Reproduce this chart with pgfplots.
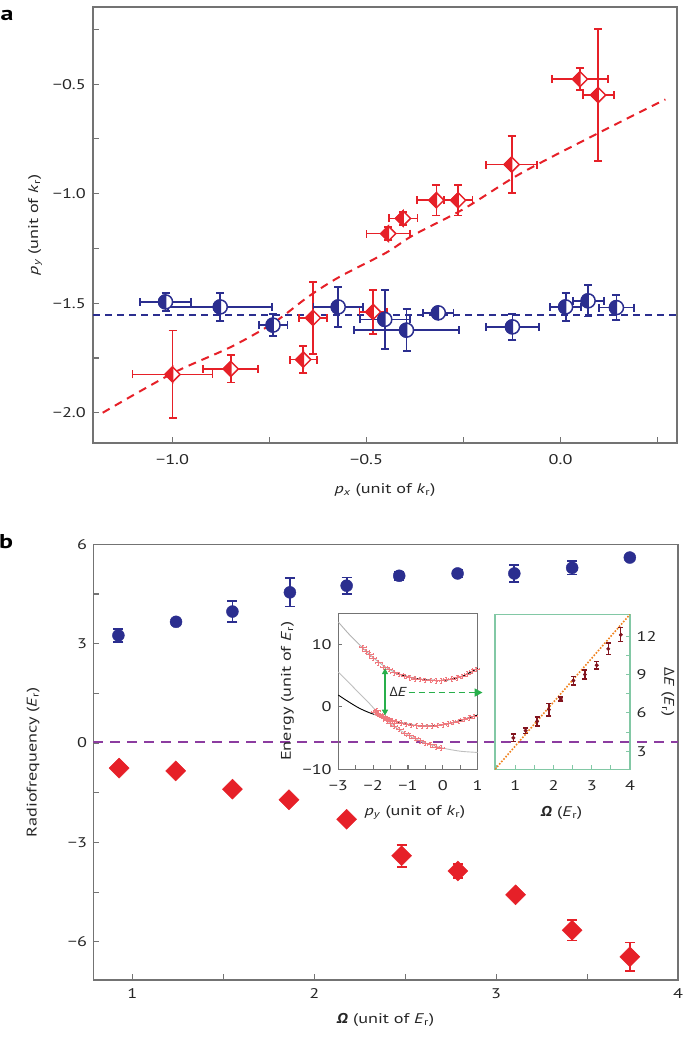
\documentclass[border=0pt]{standalone}
\usepackage{pgfplots}
\pgfplotsset{compat=1.18}
\usepackage{fontspec}
\setmainfont{PT Sans}[FakeStretch=1.3]
\newfontfamily\grk{Open Sans}[FakeStretch=1.1]
\usetikzlibrary{arrows.meta}
\definecolor{cred}{RGB}{230,32,40}
\definecolor{cblue}{RGB}{43,46,143}
\definecolor{cpurple}{RGB}{140,60,160}
\definecolor{cgreen}{RGB}{40,175,75}
\definecolor{corange}{RGB}{240,130,30}
\definecolor{cdred}{RGB}{130,20,30}
\definecolor{cmint}{RGB}{130,200,165}
\definecolor{caxis}{RGB}{115,115,115}
\newcommand{\kr}{\textit{k}\textsubscript{r}}
\newcommand{\Er}{\textit{E}\textsubscript{r}}
\newcommand{\py}{\textit{p}\textsubscript{\textit{y}}}
\newcommand{\px}{\textit{p}\textsubscript{\textit{x}}}
\newcommand{\Om}{{\grk\bfseries\itshape Ω}}
\newcommand{\tfont}{\fontsize{14}{16}\selectfont}
\pgfdeclareplotmark{hdiamondred}{%
  \pgfpathmoveto{\pgfqpoint{0pt}{\pgfplotmarksize}}%
  \pgfpathlineto{\pgfqpoint{\pgfplotmarksize}{0pt}}%
  \pgfpathlineto{\pgfqpoint{0pt}{-\pgfplotmarksize}}%
  \pgfpathlineto{\pgfqpoint{-\pgfplotmarksize}{0pt}}%
  \pgfpathclose
  \pgfsetfillcolor{white}%
  \pgfusepathqfillstroke
  \pgfpathmoveto{\pgfqpoint{0pt}{\pgfplotmarksize}}%
  \pgfpathlineto{\pgfqpoint{-\pgfplotmarksize}{0pt}}%
  \pgfpathlineto{\pgfqpoint{0pt}{-\pgfplotmarksize}}%
  \pgfpathclose
  \pgfsetfillcolor{cred}%
  \pgfusepathqfillstroke
}
\pgfdeclareplotmark{hcircblue}{%
  \pgfpathcircle{\pgfpointorigin}{\pgfplotmarksize}%
  \pgfsetfillcolor{white}%
  \pgfusepathqfillstroke
  \pgfpathmoveto{\pgfqpoint{0pt}{\pgfplotmarksize}}%
  \pgfpatharc{90}{270}{\pgfplotmarksize}%
  \pgfpathclose
  \pgfsetfillcolor{cblue}%
  \pgfusepathqfillstroke
}
\pgfdeclareplotmark{sqdiamond}{%
  \pgfpathmoveto{\pgfqpoint{0pt}{\pgfplotmarksize}}%
  \pgfpathlineto{\pgfqpoint{\pgfplotmarksize}{0pt}}%
  \pgfpathlineto{\pgfqpoint{0pt}{-\pgfplotmarksize}}%
  \pgfpathlineto{\pgfqpoint{-\pgfplotmarksize}{0pt}}%
  \pgfpathclose
  \pgfusepathqfillstroke
}
\pgfplotstableread{
x y ex ey
-1.000 -1.825 0.103 0.20
-0.850 -1.800 0.071 0.062
-0.663 -1.757 0.035 0.062
-0.638 -1.567 0.037 0.165
-0.483 -1.540 0.035 0.10
-0.444 -1.182 0.056 0.03
-0.406 -1.113 0.037 0.03
-0.320 -1.030 0.050 0.07
-0.264 -1.030 0.037 0.07
-0.126 -0.867 0.066 0.13
0.050 -0.477 0.072 0.05
0.097 -0.550 0.040 0.30
}\redA
\pgfplotstableread{
x y ex ey
-1.018 -1.494 0.066 0.040
-0.877 -1.517 0.134 0.065
-0.741 -1.600 0.037 0.050
-0.573 -1.517 0.064 0.090
-0.453 -1.574 0.064 0.135
-0.397 -1.623 0.136 0.095
-0.315 -1.544 0.039 0.025
-0.124 -1.608 0.069 0.060
0.013 -1.517 0.040 0.065
0.071 -1.489 0.040 0.072
0.144 -1.520 0.045 0.057
}\blueA
\pgfplotstableread{
x y ey
0.923 3.25 0.20
1.240 3.66 0.10
1.550 3.97 0.32
1.866 4.55 0.43
2.178 4.75 0.25
2.467 5.05 0.12
2.788 5.12 0.12
3.100 5.12 0.25
3.418 5.29 0.20
3.735 5.60 0.08
}\blueB
\pgfplotstableread{
x y ey
0.927 -0.755 0.10
1.238 -0.840 0.08
1.550 -1.390 0.10
1.861 -1.710 0.10
2.178 -2.300 0.10
2.480 -3.400 0.33
2.790 -3.860 0.22
3.107 -4.580 0.12
3.418 -5.650 0.31
3.735 -6.450 0.43
}\redB
\pgfplotstableread{
x y ey
0.95 4.05 0.30
1.27 4.62 0.20
1.57 5.34 0.35
1.88 6.26 0.50
2.19 7.09 0.15
2.52 8.52 0.35
2.82 9.00 0.35
3.13 9.72 0.30
3.43 11.00 0.45
3.76 12.10 0.55
}\dE
\pgfplotstableread{
x y
-2.30 9.6
-2.20 8.9
-2.10 8.4
-2.00 7.8
-1.85 7.1
-1.70 6.4
-1.55 6.0
-1.40 5.5
-1.25 5.2
-1.10 4.9
-0.95 4.7
-0.80 4.5
-0.65 4.4
-0.50 4.3
-0.35 4.3
-0.20 4.2
-0.05 4.2
0.10 4.4
0.25 4.5
0.40 4.7
0.55 4.9
0.70 5.3
0.85 5.7
0.95 6.0
-1.95 -0.8
-1.85 -1.1
-1.80 -1.3
-1.75 -1.5
-1.70 -1.6
-1.65 -1.8
-1.60 -1.9
-1.55 -2.0
-1.45 -2.2
-1.35 -2.35
-1.20 -2.55
-1.05 -2.75
-0.90 -2.9
-0.75 -3.0
-0.60 -3.05
-0.45 -3.1
-0.30 -3.05
-0.15 -2.95
0.00 -2.85
0.15 -2.7
0.30 -2.5
0.45 -2.25
0.60 -2.0
0.75 -1.75
0.90 -1.5
-1.90 -0.6
-1.70 -1.6
-1.60 -2.2
-1.50 -2.6
-1.40 -3.1
-1.25 -3.6
-1.10 -4.2
-0.95 -4.6
-0.80 -5.0
-0.65 -5.4
-0.50 -5.8
-0.35 -6.05
-0.20 -6.4
-0.05 -6.55
}\bandpts
\pgfplotsset{
  base/.style={
    scale only axis, anchor=south west,
    tick align=inside,
    axis line style={caxis, line width=1.1pt},
    every tick/.style={caxis, line width=1.1pt},
    major tick length=6pt, minor tick length=6pt,
    every tick label/.append style={font=\tfont, text=black!85},
    every axis label/.append style={font=\tfont, text=black!85},
  },
  xlab/.style 2 args={every axis x label/.style={at={(axis description cs:#1,#2)}, anchor=center}},
  ylab/.style 2 args={every axis y label/.style={at={(axis description cs:#1,#2)}, anchor=center, rotate=90}},
}
\begin{document}
\begin{tikzpicture}
\path[use as bounding box] (0pt,0pt) rectangle (685pt,1040pt);
% ---------------- panel a
\begin{axis}[base,
  at={(93pt,597pt)}, width=584pt, height=436pt,
  xmin=-1.205, xmax=0.30, ymin=-2.138, ymax=-0.148,
  tick pos=left,
  xtick={-1,-0.5,0}, xticklabels={−1.0,−0.5,0.0},
  minor xtick={-0.75,-0.25,0.25},
  ytick={-2,-1.5,-1,-0.5}, yticklabels={−2.0,−1.5,−1.0,−0.5},
  minor ytick={-1.75,-1.25,-0.75,-0.25},
  xticklabel style={anchor=center, yshift=-17pt},
  yticklabel style={anchor=east, inner sep=0pt, xshift=-7pt},
  xlab={0.5}{-0.108}, ylab={-0.099}{0.5},
  xlabel={\px\ (unit of \kr)}, ylabel={\py\ (unit of \kr)},
  error bars/error bar style={line width=1.8pt},
  error bars/error mark options={line width=1.8pt, mark size=4pt, rotate=90},
]
\addplot[cblue, line width=2pt, dash pattern=on 7pt off 5pt] coordinates {(-1.205,-1.555) (0.30,-1.555)};
\addplot[cred, line width=2pt, dash pattern=on 8pt off 6pt, smooth] coordinates {
(-1.18,-2.0) (-1.0,-1.82) (-0.85,-1.70) (-0.74,-1.59) (-0.65,-1.47) (-0.57,-1.38) (-0.45,-1.27) (-0.38,-1.19) (-0.25,-1.07) (-0.105,-0.91) (0.09,-0.73) (0.27,-0.57)};
\addplot[cred, only marks, mark=hdiamondred, mark size=7.5pt, mark options={line width=1.5pt},
  error bars/.cd, x dir=both, x explicit, y dir=both, y explicit]
  table[x=x, y=y, x error=ex, y error=ey] {\redA};
\addplot[cblue, only marks, mark=hcircblue, mark size=7pt, mark options={line width=1.5pt},
  error bars/.cd, x dir=both, x explicit, y dir=both, y explicit]
  table[x=x, y=y, x error=ex, y error=ey] {\blueA};
\end{axis}
% ---------------- panel b
\begin{axis}[base,
  at={(93.3pt,60pt)}, width=584.7pt, height=435.7pt,
  xmin=0.785, xmax=4, ymin=-7.15, ymax=6,
  tick pos=left,
  xtick={1,2,3,4}, xticklabels={1,2,3,4}, minor xtick={1.5,2.5,3.5},
  ytick={-6,-3,0,3,6}, yticklabels={−6,−3,0,3,6},
  minor ytick={-4.5,-1.5,1.5,4.5},
  xticklabel style={anchor=center, yshift=-14pt},
  yticklabel style={anchor=east, inner sep=0pt, xshift=-6pt},
  xlab={0.5}{-0.092}, ylab={-0.103}{0.5},
  xlabel={\Om\ (unit of \Er)}, ylabel={Radiofrequency (\Er)},
  error bars/error bar style={line width=1.8pt},
  error bars/error mark options={line width=1.8pt, mark size=5pt, rotate=90},
]
\addplot[cpurple, line width=2pt, dash pattern=on 10pt off 7pt] coordinates {(0.785,0.03) (4,0.03)};
\addplot[cblue, only marks, mark=*, mark size=6pt,
  error bars/.cd, y dir=both, y explicit]
  table[x=x, y=y, y error=ey] {\blueB};
\addplot[cred, only marks, mark=sqdiamond, mark size=10pt,
  error bars/.cd, y dir=both, y explicit]
  table[x=x, y=y, y error=ey] {\redB};
\end{axis}
% ---------------- inset 1
\begin{axis}[base,
  at={(338.3pt,270.7pt)}, width=139.4pt, height=156pt,
  xmin=-3, xmax=1, ymin=-10, ymax=15, clip=false,
  tick pos=left,
  xtick={-3,-2,-1,0,1}, xticklabels={−3,−2,−1,0,1},
  minor xtick={-2.5,-1.5,-0.5,0.5},
  ytick={-10,0,10}, yticklabels={−10,0,10},
  major tick length=4pt, minor tick length=4pt,
  xticklabel style={anchor=center, yshift=-16pt},
  yticklabel style={anchor=east, inner sep=0pt, xshift=-6.5pt},
  xlab={0.55}{-0.276}, ylab={-0.365}{0.5},
  xlabel={\py\ (unit of \kr)}, ylabel={Energy (unit of \Er)},
]
\addplot[black!30, line width=0.9pt, smooth] coordinates {
(-3,13.6) (-2.7,11.7) (-2.4,10.0) (-2.1,8.4) (-1.8,7.0) (-1.5,5.9) (-1.2,5.15) (-0.9,4.7) (-0.6,4.4) (-0.3,4.25) (0,4.25) (0.3,4.5) (0.6,5.0) (1,6.2)};
\addplot[black, line width=0.9pt, smooth] coordinates {
(-1.4,5.55) (-1.2,5.15) (-0.9,4.7) (-0.6,4.4) (-0.3,4.25) (0,4.25) (0.3,4.5) (0.6,5.0) (1,6.2)};
\addplot[black!25, line width=0.9pt, smooth] coordinates {
(-3,5.6) (-2.7,3.9) (-2.4,2.2) (-2.15,0.8) (-1.9,-0.7) (-1.65,-1.95) (-1.4,-3.1) (-1.0,-4.5) (-0.5,-5.8) (0,-6.6) (0.5,-7.1) (1,-7.3)};
\addplot[black, line width=0.9pt, smooth] coordinates {
(-3,1.9) (-2.7,0.8) (-2.4,-0.2) (-2.1,-0.95) (-1.8,-1.5) (-1.5,-2.1) (-1.2,-2.55) (-0.9,-2.9) (-0.6,-3.05) (-0.3,-3.05) (0,-2.85) (0.3,-2.5) (0.6,-2.0) (1,-1.3)};
\addplot[cred!60, only marks, mark=*, mark size=0.6pt,
  error bars/.cd, x dir=both, x fixed=0.1, y dir=both, y fixed=0.35,
  error bar style={line width=0.5pt}, error mark options={line width=0.5pt, mark size=1pt, rotate=90}]
  table[x=x, y=y] {\bandpts};
\addplot[cgreen, line width=1.6pt, {Triangle[length=6pt,width=6pt]}-{Triangle[length=6pt,width=6pt]}] coordinates {(-1.66,-1.4) (-1.66,6.2)};
\addplot[cgreen, line width=1.6pt, dash pattern=on 6pt off 4pt, -{Triangle[length=8pt,width=8pt]}] coordinates {(-0.98,2.3) (1.14,2.3)};
\node[font=\fontsize{13}{15}\selectfont, text=black!85, inner sep=1pt] at (axis cs:-1.28,2.4) {{\grk Δ}\textit{E}};
\end{axis}
% ---------------- inset 2
\begin{axis}[base,
  at={(495pt,270.7pt)}, width=135pt, height=155pt,
  xmin=0.47, xmax=4, ymin=1.6, ymax=13.7,
  axis line style={cmint, line width=1.1pt},
  every tick/.style={cmint, line width=1.1pt},
  xtick pos=left, ytick pos=right, yticklabel pos=right,
  xtick={1,2,3,4}, xticklabels={1,2,3,4}, minor xtick={0.5,1.5,2.5,3.5},
  ytick={3,6,9,12}, yticklabels={3,6,9,12}, minor ytick={4.5,7.5,10.5},
  major tick length=4pt, minor tick length=4pt,
  xticklabel style={anchor=center, yshift=-16pt},
  yticklabel style={anchor=west, inner sep=0pt, xshift=6.5pt},
  xlab={0.494}{-0.28},
  every axis y label/.style={at={(axis description cs:1.28,0.5)}, anchor=center, rotate=-90},
  xlabel={\Om\ (\Er)}, ylabel={{\grk Δ}\textit{E} (\Er)},
  error bars/error bar style={line width=1.3pt},
  error bars/error mark options={line width=1.3pt, mark size=2.5pt, rotate=90},
]
\addplot[corange, line width=1.6pt, dash pattern=on 1.6pt off 1.6pt] coordinates {(0.47,1.6) (4,13.7)};
\addplot[cdred, only marks, mark=*, mark size=1.8pt,
  error bars/.cd, y dir=both, y explicit]
  table[x=x, y=y, y error=ey] {\dE};
\end{axis}
\node[font=\bfseries\fontsize{20}{22}\selectfont] at (7pt,1025pt) {a};
\node[font=\bfseries\fontsize{20}{22}\selectfont] at (6pt,498.5pt) {b};
\end{tikzpicture}
\end{document}
